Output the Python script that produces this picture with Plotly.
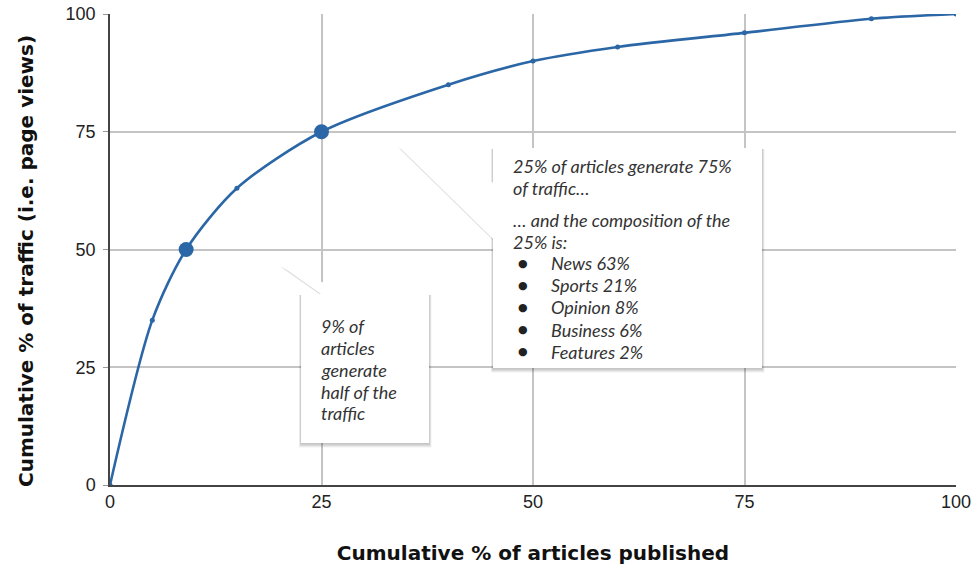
import plotly.graph_objects as go

# ---- data ----
articles_pct = [0, 5, 9, 15, 25, 40, 50, 60, 75, 90, 100]
traffic_pct = [0, 35, 50, 63, 75, 85, 90, 93, 96, 99, 100]
highlight_x = [9, 25]
highlight_y = [50, 75]
tick_vals = [0, 25, 50, 75, 100]
tick_text = ["0", "25", "50", "75", "100"]

callout1_lines = ["9% of", "articles", "generate", "half of the", "traffic"]
callout2_lines = ["25% of articles generate 75%", "of traffic\u2026",
                  "\u2026 and the composition of the", "25% is:"]
composition = ["News 63%", "Sports 21%", "Opinion 8%", "Business 6%", "Features 2%"]

LINE = "#2b67a6"

fig = go.Figure()
fig.add_trace(go.Scatter(
    x=articles_pct, y=traffic_pct, mode="lines+markers",
    line=dict(color=LINE, width=2.6, shape="spline", smoothing=0.8),
    marker=dict(size=5, color=LINE), hoverinfo="x+y", showlegend=False))
fig.add_trace(go.Scatter(
    x=highlight_x, y=highlight_y, mode="markers",
    marker=dict(size=15, color=LINE), showlegend=False))

# plot geometry helpers (data units per pixel)
PX = 100 / 846.0
PY = 100 / 471.0

shapes = []

def rect_path(x0, y0, x1, y1):
    return f"M{x0},{y0} L{x1},{y0} L{x1},{y1} L{x0},{y1} Z"

def tri_path(pts):
    return "M" + " L".join(f"{a},{b}" for a, b in pts) + " Z"

def add_callout(rect, tri):
    x0, y0, x1, y1 = rect  # y0 top, y1 bottom
    for k in [4, 3, 2, 1]:
        shapes.append(dict(type="path", xref="x", yref="y",
                           path=rect_path(x0 - 0.5 * k * PX, y0 - 1 * PY,
                                          x1 + 0.6 * k * PX, y1 - (k + 0.5) * PY),
                           fillcolor="rgba(0,0,0,0.06)", line=dict(width=0), layer="above"))
    for k in [3, 2, 1]:
        shapes.append(dict(type="path", xref="x", yref="y",
                           path=tri_path([(a + 0.3 * k * PX, b - 0.8 * k * PY) for a, b in tri]),
                           fillcolor="rgba(0,0,0,0.06)", line=dict(width=0), layer="above"))
    shapes.append(dict(type="path", xref="x", yref="y", path=rect_path(x0, y0, x1, y1),
                       fillcolor="white", line=dict(width=0), layer="above"))
    shapes.append(dict(type="path", xref="x", yref="y", path=tri_path(tri),
                       fillcolor="white", line=dict(width=0), layer="above"))

# callout 1 (9% of articles)
add_callout((22.58, 40.55, 37.71, 8.92),
            [(20.09, 46.71), (25.06, 40.40), (28.72, 40.40)])
# callout 2 (25% of articles)
add_callout((45.27, 71.55, 77.07, 24.84),
            [(34.04, 71.97), (45.40, 64.12), (45.40, 52.02)])

annotations = []
TXT = dict(family="Lato, 'Open Sans', sans-serif", size=18, color="#333333")

c1_y = [33.76, 29.09, 24.42, 19.75, 15.29]
for line, yy in zip(callout1_lines, c1_y):
    annotations.append(dict(x=24.70, y=yy, xref="x", yref="y", text=f"<i>{line}</i>",
                            showarrow=False, xanchor="left", yanchor="middle", font=TXT))

c2_y = [67.73, 63.06, 56.26, 51.59]
for line, yy in zip(callout2_lines, c2_y):
    annotations.append(dict(x=47.40, y=yy, xref="x", yref="y", text=f"<i>{line}</i>",
                            showarrow=False, xanchor="left", yanchor="middle", font=TXT))

b_y = [47.13, 42.46, 37.79, 32.91, 28.24]
for item, yy in zip(composition, b_y):
    annotations.append(dict(x=48.82, y=yy, xref="x", yref="y", text="\u25cf",
                            showarrow=False, xanchor="center", yanchor="middle",
                            font=dict(family="DejaVu Sans", size=11, color="#222222")))
    annotations.append(dict(x=51.89, y=yy, xref="x", yref="y", text=f"<i>{item}</i>",
                            showarrow=False, xanchor="left", yanchor="middle", font=TXT))

# y-axis title placed as a rotated annotation so it sits where the reference has it
annotations.append(dict(x=26, y=261, xref="paper", yref="paper", showarrow=False,
                        text="<b>Cumulative % of traffic (i.e. page views)</b>", textangle=-90,
                        xanchor="center", yanchor="middle",
                        font=dict(family="DejaVu Sans, Verdana, sans-serif", size=20, color="#111111")))
# convert pixel placement to paper fractions
annotations[-1]["x"] = (26 - 110) / 846.0
annotations[-1]["y"] = (485 - 261) / 471.0

TICKF = dict(family="Liberation Sans, Arial, sans-serif", size=18, color="#222222")
TITLEF = dict(family="DejaVu Sans, Verdana, sans-serif", size=20, color="#111111", weight="bold")

fig.update_layout(
    width=973, height=566,
    margin=dict(l=110, r=17, t=14, b=81, autoexpand=False),
    paper_bgcolor="white", plot_bgcolor="white",
    shapes=shapes, annotations=annotations,
    xaxis=dict(range=[0, 100], tickvals=tick_vals, ticktext=tick_text, automargin=False,
               showgrid=True, gridcolor="#c4c4c4", gridwidth=2,
               showline=True, linecolor="#444444", linewidth=1.5,
               ticks="", tickfont=TICKF, zeroline=False,
               title=dict(text="<b>Cumulative % of articles published</b>", font=TITLEF, standoff=35)),
    yaxis=dict(range=[0, 100], tickvals=tick_vals, ticktext=tick_text, automargin=False,
               showgrid=True, gridcolor="#c4c4c4", gridwidth=2,
               showline=True, linecolor="#444444", linewidth=1.5,
               ticks="outside", ticklen=5, tickcolor="#999999", tickfont=TICKF, zeroline=False,
               ticklabelstandoff=4),
)

fig.write_html("out.html")
